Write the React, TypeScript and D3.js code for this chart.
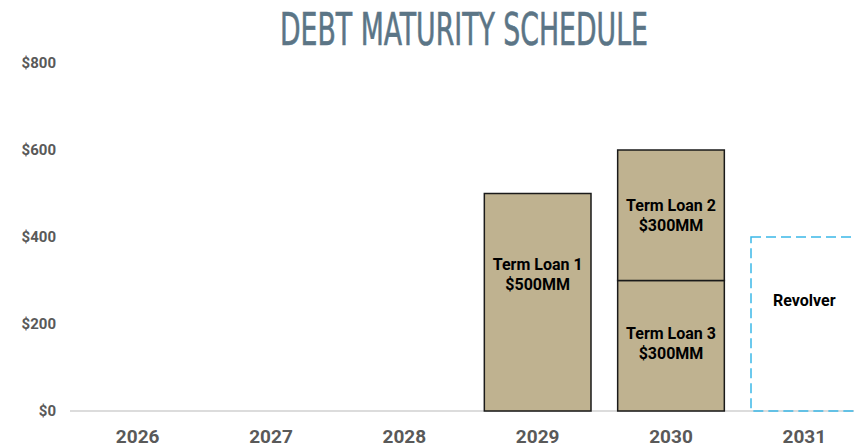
import React from "react";
import * as d3 from "d3";

const years = ["2026", "2027", "2028", "2029", "2030", "2031"];
const yTicks = [0, 200, 400, 600, 800];
// segments: year, base, value, label lines, label anchor value
const segYears = ["2029", "2030", "2030"];
const segNames = ["Term Loan 1", "Term Loan 3", "Term Loan 2"];
const segBase = [0, 0, 300];
const segValues = [500, 300, 300];
const segAmounts = ["$500MM", "$300MM", "$300MM"];
const segLabelAt = [315, 155, 450];
const revolverYear = "2031";
const revolverValue = 400;
const revolverLabel = "Revolver";
const revolverLabelAt = 255;

const W = 854;
const H = 448;

export default function App() {
  const x = d3.scaleBand<string>().domain(years).range([71, 871]).paddingInner(0.2).paddingOuter(0.1);
  const y = d3.scaleLinear().domain([0, 800]).range([411, 63]);
  const bw = x.bandwidth();
  const font = "Roboto, 'Liberation Sans', Arial, sans-serif";
  return (
    <svg width={W} height={H} style={{ position: "absolute", left: 0, top: 0, background: "#fff" }}>
      <text
        x={464}
        y={45}
        textAnchor="middle"
        fontFamily="'DejaVu Sans Condensed', 'Liberation Sans Narrow', Roboto, sans-serif"
        fontSize={44}
        fill="#5b7586"
        stroke="#5b7586"
        strokeWidth={0.6}
        textLength={368}
        lengthAdjust="spacingAndGlyphs"
      >
        DEBT MATURITY SCHEDULE
      </text>
      {yTicks.map((t) => (
        <text key={t} x={56} y={y(t)} dy="0.35em" textAnchor="end" fontFamily={font} fontWeight={700} fontSize={15} fill="#595959">
          {"$" + t}
        </text>
      ))}
      <line x1={70} x2={W} y1={y(0)} y2={y(0)} stroke="#d0d0d0" strokeWidth={1.5} />
      {segValues.map((v, i) => {
        const x0 = x(segYears[i])!;
        const y0 = y(segBase[i] + v);
        const y1 = y(segBase[i]);
        const cx = x0 + bw / 2;
        const ly = y(segLabelAt[i]);
        return (
          <g key={i}>
            <rect x={x0} y={y0} width={bw} height={y1 - y0} fill="#bfb290" stroke="#1a1a1a" strokeWidth={1.5} />
            <text x={cx} y={ly - 10} dy="0.35em" textAnchor="middle" fontFamily={font} fontWeight={700} fontSize={16} fill="#000">
              {segNames[i]}
            </text>
            <text x={cx} y={ly + 10} dy="0.35em" textAnchor="middle" fontFamily={font} fontWeight={700} fontSize={16} fill="#000">
              {segAmounts[i]}
            </text>
          </g>
        );
      })}
      <rect
        x={x(revolverYear)!}
        y={y(revolverValue)}
        width={bw}
        height={y(0) - y(revolverValue)}
        fill="none"
        stroke="#3bb8e8"
        strokeWidth={1.5}
        strokeDasharray="10,5"
      />
      <text x={x(revolverYear)! + bw / 2} y={y(revolverLabelAt)} dy="0.35em" textAnchor="middle" fontFamily={font} fontWeight={700} fontSize={16} fill="#000">
        {revolverLabel}
      </text>
      {years.map((yr) => (
        <text key={yr} x={x(yr)! + bw / 2} y={436} dy="0.35em" textAnchor="middle" fontFamily={font} fontWeight={700} fontSize={19} fill="#595959">
          {yr}
        </text>
      ))}
    </svg>
  );
}
